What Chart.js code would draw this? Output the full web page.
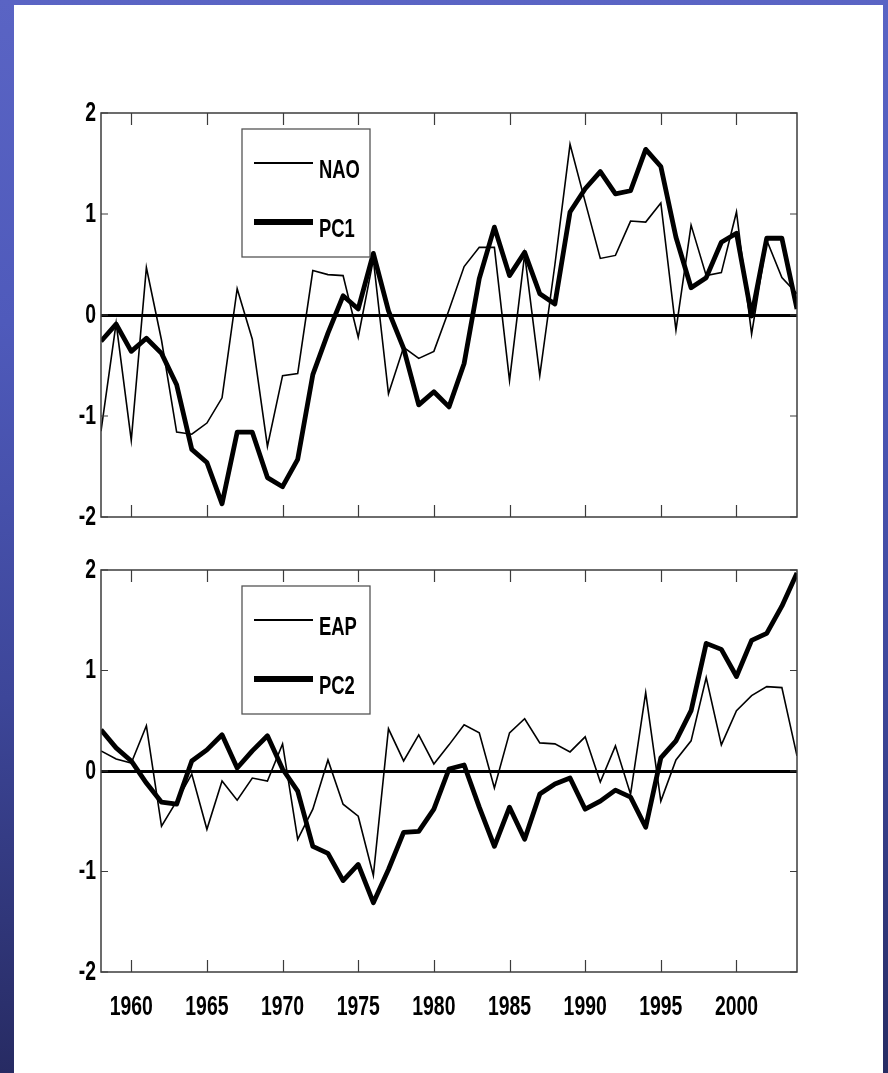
<!DOCTYPE html>
<html><head><meta charset="utf-8">
<script src="https://cdn.jsdelivr.net/npm/chart.js@4.4.1/dist/chart.umd.min.js"></script>
<style>
html,body{margin:0;padding:0;width:888px;height:1073px;overflow:hidden;}
body{background:linear-gradient(to bottom,#5a64c4 0%,#4f5abb 30%,#3d4699 65%,#272b63 100%);position:relative;}
#paper{position:absolute;left:14px;top:5px;width:869px;height:1068px;background:#fff;}
canvas{position:absolute;left:0;}
#c1{top:0;}
#c2{top:545px;}
</style></head><body>
<div id="paper"></div>
<canvas id="c1" width="888" height="545"></canvas>
<canvas id="c2" width="888" height="528"></canvas>
<script>
const years = [1958,1959,1960,1961,1962,1963,1964,1965,1966,1967,1968,1969,1970,1971,1972,1973,1974,1975,1976,1977,1978,1979,1980,1981,1982,1983,1984,1985,1986,1987,1988,1989,1990,1991,1992,1993,1994,1995,1996,1997,1998,1999,2000,2001,2002,2003,2004];
const nao = [-1.15,-0.08,-1.24,0.47,-0.25,-1.16,-1.18,-1.07,-0.82,0.26,-0.24,-1.30,-0.60,-0.58,0.44,0.40,0.39,-0.22,0.55,-0.78,-0.32,-0.43,-0.36,0.05,0.48,0.67,0.67,-0.65,0.60,-0.60,0.50,1.69,1.12,0.56,0.59,0.93,0.92,1.11,-0.15,0.89,0.39,0.42,1.02,-0.19,0.74,0.37,0.21];
const pc1 = [-0.26,-0.09,-0.36,-0.23,-0.38,-0.69,-1.33,-1.46,-1.87,-1.16,-1.16,-1.61,-1.70,-1.43,-0.59,-0.18,0.19,0.06,0.61,0.04,-0.33,-0.89,-0.76,-0.91,-0.48,0.36,0.87,0.39,0.62,0.21,0.11,1.02,1.25,1.42,1.20,1.23,1.64,1.47,0.77,0.27,0.37,0.72,0.81,-0.01,0.76,0.76,0.06];
const eap = [0.20,0.12,0.08,0.45,-0.55,-0.30,-0.03,-0.58,-0.10,-0.29,-0.07,-0.10,0.27,-0.68,-0.38,0.11,-0.33,-0.45,-1.04,0.42,0.10,0.36,0.07,0.26,0.46,0.38,-0.17,0.38,0.52,0.28,0.27,0.19,0.34,-0.11,0.25,-0.23,0.78,-0.30,0.11,0.30,0.93,0.26,0.60,0.75,0.84,0.83,0.15];
const pc2 = [0.41,0.23,0.10,-0.12,-0.31,-0.33,0.10,0.21,0.36,0.03,0.20,0.35,0.02,-0.20,-0.75,-0.82,-1.09,-0.93,-1.31,-0.98,-0.61,-0.60,-0.38,0.02,0.06,-0.36,-0.75,-0.36,-0.68,-0.23,-0.13,-0.07,-0.38,-0.30,-0.19,-0.26,-0.56,0.13,0.30,0.60,1.27,1.21,0.94,1.30,1.37,1.64,1.97];
const xTickYears = [1960,1965,1970,1975,1980,1985,1990,1995,2000];
const yTickValues = [-2,-1,0,1,2];

const FONT_FAMILY = "'Liberation Sans',Arial,Helvetica,sans-serif";
const TEXT_SCALE_X = 0.97, TEXT_SCALE_Y = 1.36;

function pts(vals){ return years.map((yr,i)=>({x:yr,y:vals[i]})); }

// draw all canvas text vertically stretched, like the original figure
function stretchText(canvas){
  const c = canvas.getContext('2d');
  const orig = c.fillText.bind(c);
  c.fillText = function(t,x,y,m){
    this.save(); this.translate(x,y); this.scale(TEXT_SCALE_X,TEXT_SCALE_Y);
    if (m === undefined) orig(t,0,0); else orig(t,0,0,m/TEXT_SCALE_X);
    this.restore();
  };
}

const framePlugin = {
  id:'frameLegend',
  afterDatasetsDraw(chart){
    const {ctx, chartArea:a, scales} = chart;
    const x = scales.x, y = scales.y;
    ctx.save();
    ctx.strokeStyle='#3c3c3c';
    ctx.lineWidth=1.5;
    ctx.strokeRect(a.left, a.top, a.right-a.left, a.bottom-a.top);
    ctx.beginPath();
    xTickYears.forEach(v=>{
      const px = Math.round(x.getPixelForValue(v))+0.5;
      ctx.moveTo(px,a.top); ctx.lineTo(px,a.top+12);
      ctx.moveTo(px,a.bottom); ctx.lineTo(px,a.bottom-12);
    });
    yTickValues.forEach(v=>{
      const py = y.getPixelForValue(v);
      ctx.moveTo(a.left,py); ctx.lineTo(a.left+7,py);
      ctx.moveTo(a.right,py); ctx.lineTo(a.right-7,py);
    });
    ctx.lineWidth=1.2;
    ctx.stroke();
    // legend box
    const bx=a.left+141, by=a.top+16, bw=128, bh=128;
    ctx.fillStyle='#fff'; ctx.fillRect(bx,by,bw,bh);
    ctx.strokeStyle='#555'; ctx.lineWidth=1.3; ctx.strokeRect(bx,by,bw,bh);
    const rows=[34,93];
    chart.data.datasets.forEach((ds,i)=>{
      const ly=by+rows[i];
      ctx.beginPath(); ctx.moveTo(bx+12,ly); ctx.lineTo(bx+71,ly);
      ctx.strokeStyle=ds.borderColor; ctx.lineWidth = i===0 ? 1.8 : 6; ctx.lineCap='butt'; ctx.stroke();
      ctx.fillStyle='#000'; ctx.font='bold 19px '+FONT_FAMILY;
      ctx.textBaseline='alphabetic'; ctx.textAlign='left';
      ctx.fillText(ds.label,bx+77,ly+15);
    });
    ctx.restore();
  }
};

function makeChart(id, thinLabel, thinVals, thickLabel, thickVals, showX, pad, xHeight){
  const canvas = document.getElementById(id);
  stretchText(canvas);
  return new Chart(canvas, {
    type:'line',
    data:{datasets:[
      {label:thinLabel, data:pts(thinVals), borderColor:'#000', borderWidth:1.6, pointRadius:0, tension:0, borderJoinStyle:'miter'},
      {label:thickLabel, data:pts(thickVals), borderColor:'#000', borderWidth:4.8, pointRadius:0, tension:0, borderJoinStyle:'round'}
    ]},
    options:{
      responsive:false, animation:false, devicePixelRatio:1,
      layout:{padding:pad},
      plugins:{legend:{display:false}, tooltip:{enabled:false}},
      scales:{
        x:{type:'linear', min:1958, max:2004, display:showX,
          afterBuildTicks:s=>{ s.ticks = xTickYears.map(v=>({value:v})); },
          afterFit:s=>{ s.height = xHeight; },
          grid:{display:false, drawTicks:false}, border:{display:false},
          ticks:{padding:23, color:'#000', autoSkip:false, maxRotation:0,
            font:{family:FONT_FAMILY, size:20, weight:'bold'}, callback:v=>String(v)}},
        y:{type:'linear', min:-2, max:2,
          afterBuildTicks:s=>{ s.ticks = yTickValues.map(v=>({value:v})); },
          afterFit:s=>{ s.width = 101; },
          grid:{drawTicks:false,
            color:c=> (c.tick && c.tick.value===0) ? '#000' : 'rgba(0,0,0,0)',
            lineWidth:c=> (c.tick && c.tick.value===0) ? 3 : 0},
          border:{display:false},
          ticks:{padding:5, color:'#000', font:{family:FONT_FAMILY, size:20, weight:'bold'}, callback:v=>String(v)}}
      }
    },
    plugins:[framePlugin]
  });
}

makeChart('c1','NAO',nao,'PC1',pc1,false,{top:113,right:91,bottom:28,left:0},0);
makeChart('c2','EAP',eap,'PC2',pc2,true,{top:25,right:91,bottom:0,left:0},101);
</script>
</body></html>
